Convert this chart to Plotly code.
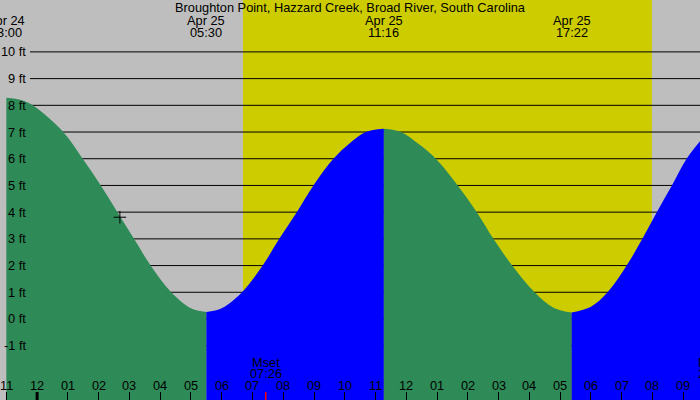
import plotly.graph_objects as go

# tide readings, hours counted from Apr 25 00:00, heights in ft
fall1_t = [-1, -0.5, -0.14, 0.85, 1.48, 2.07, 2.61, 3.15, 3.69, 4.36, 5.0, 5.5]
fall1_h = [8.28, 8.19, 8.0, 7.0, 6.0, 5.0, 4.0, 3.0, 2.0, 1.0, 0.40, 0.26]
rise1_t = [5.5, 6.0, 6.66, 7.33, 7.87, 8.44, 8.98, 9.63, 10.2, 10.68, 11.27]
rise1_h = [0.26, 0.40, 1.0, 2.0, 3.0, 4.0, 5.0, 6.0, 6.62, 7.0, 7.12]
fall2_t = [11.27, 11.82, 12.4, 12.96, 13.67, 14.29, 14.83, 15.44, 16.17, 16.8, 17.37]
fall2_h = [7.12, 7.0, 6.55, 6.0, 5.0, 4.0, 3.0, 2.0, 1.0, 0.41, 0.24]
rise2_t = [17.37, 18.0, 18.54, 19.16, 19.67, 20.14, 20.63, 21.11, 21.6]
rise2_h = [0.24, 0.46, 1.0, 2.0, 3.0, 4.0, 5.0, 6.0, 6.73]

extreme_times = [-1, 5.5, 11.27, 17.37]
extreme_dates = ["Apr 24", "Apr 25", "Apr 25", "Apr 25"]
extreme_labels = ["23:00", "05:30", "11:16", "17:22"]

sunrise, sunset = 6.69, 19.98
moonset, moonset_label = 7.43, "07:26"
moonrise_label = "21:56"
now_t, now_h = 2.69, 3.81

hours = list(range(-1, 22))
hour_labels = [f"{(h % 12) or 12:02d}" for h in hours]
feet = list(range(-1, 11))

title = "Broughton Point, Hazzard Creek, Broad River, South Carolina"

x_range = [-1.206, 21.544]
y_range = [-3.033, 11.943]
GREEN, BLUE = "#2E8B57", "#0000FF"
FONT = dict(family="Liberation Sans", size=12.8, color="#000000")

fig = go.Figure()

segments = [(fall1_t, fall1_h, GREEN), (rise1_t, rise1_h, BLUE),
            (fall2_t, fall2_h, GREEN), (rise2_t, rise2_h, BLUE)]
for t, h, color in segments:
    fig.add_trace(go.Scatter(x=[t[0], t[-1]], y=[y_range[0] - 1] * 2,
                             mode="lines", line=dict(width=0),
                             showlegend=False, hoverinfo="skip"))
    fig.add_trace(go.Scatter(x=t, y=h, mode="lines", fill="tonexty",
                             fillcolor=color, line=dict(width=0, shape="spline"),
                             showlegend=False, hoverinfo="skip"))

fig.add_trace(go.Scatter(x=[now_t], y=[now_h], mode="markers",
                         marker=dict(symbol="cross-thin", size=9,
                                     line=dict(width=1, color="black")),
                         showlegend=False, hoverinfo="skip"))

# daylight band and level lines
fig.add_shape(type="rect", xref="x", yref="paper", x0=sunrise, x1=sunset,
              y0=0, y1=1, fillcolor="#CCCC00", line=dict(width=0), layer="below")
for f in feet:
    fig.add_shape(type="line", xref="paper", yref="y", x0=30 / 700, x1=1,
                  y0=f, y1=f, line=dict(color="black", width=1), layer="between")

# midnight and moonset ticks
fig.add_shape(type="line", xref="x", yref="paper", x0=0, x1=0, y0=0, y1=8 / 400,
              line=dict(color="black", width=3))
fig.add_shape(type="line", xref="x", yref="paper", x0=moonset, x1=moonset,
              y0=0, y1=8 / 400, line=dict(color="red", width=1.5))

ann = []
ann.append(dict(text=title, xref="paper", yref="paper", x=0.5, y=1,
                yanchor="middle", yshift=-7.5))
for t, d, lab in zip(extreme_times, extreme_dates, extreme_labels):
    ann.append(dict(text=d, xref="x", yref="paper", x=t, y=1, yanchor="middle", yshift=-20))
    ann.append(dict(text=lab, xref="x", yref="paper", x=t, y=1, yanchor="middle", yshift=-32))
for f in feet:
    ann.append(dict(text=f"{f} ft", xref="paper", yref="y", x=28 / 700, y=f,
                    xanchor="right", yanchor="middle"))
for h, lab in zip(hours, hour_labels):
    ann.append(dict(text=lab, xref="x", yref="paper", x=h, y=0,
                    yanchor="middle", yshift=15))
ann.append(dict(text="Mset", xref="x", yref="paper", x=moonset, y=0, yanchor="middle", yshift=38))
ann.append(dict(text=moonset_label, xref="x", yref="paper", x=moonset, y=0, yanchor="middle", yshift=27))
# moonrise label runs off the right edge
ann.append(dict(text="Mrise", xref="paper", yref="paper", x=0.994, y=0,
                xanchor="left", yanchor="middle", yshift=38))
ann.append(dict(text=moonrise_label, xref="paper", yref="paper", x=0.994, y=0,
                xanchor="left", yanchor="middle", yshift=27))
for a in ann:
    a.update(showarrow=False, font=FONT)

fig.update_layout(
    width=700, height=400,
    margin=dict(l=0, r=0, t=0, b=0),
    plot_bgcolor="#BEBEBE", paper_bgcolor="#BEBEBE",
    annotations=ann,
    xaxis=dict(range=x_range, showgrid=False, zeroline=False, showline=False,
               tickvals=hours, ticks="inside", ticklen=8, tickcolor="black",
               showticklabels=False, fixedrange=True),
    yaxis=dict(range=y_range, showgrid=False, zeroline=False, showline=False,
               showticklabels=False, fixedrange=True),
)

fig.write_html("out.html", config={"displayModeBar": False},
               post_script="document.body.style.margin='0';")
